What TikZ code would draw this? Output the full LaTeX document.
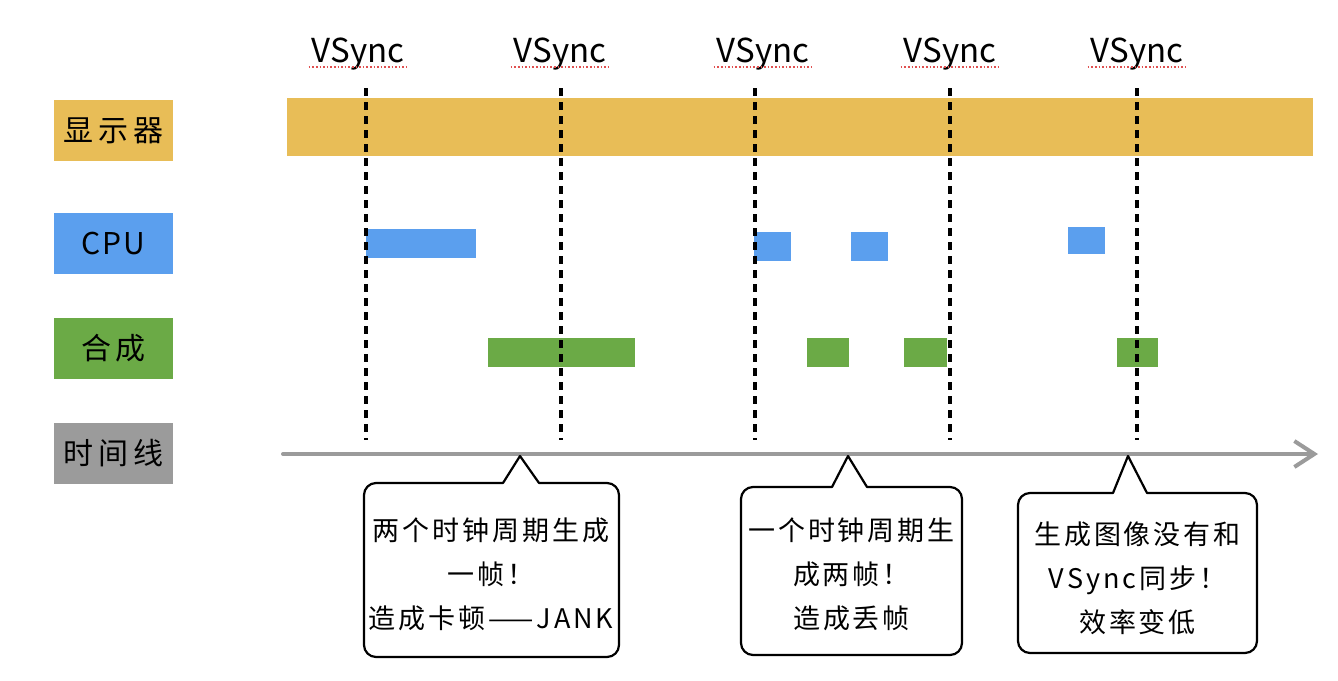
\documentclass[tikz,border=0pt]{standalone}
\usepackage{fontspec}
\setmainfont{Noto Sans CJK SC}
\newfontfamily\labelfont[LetterSpace=16]{Noto Sans CJK SC}
\newfontfamily\notefont[LetterSpace=11]{Noto Sans CJK SC}
\usetikzlibrary{arrows.meta}
\definecolor{dispyellow}{HTML}{E8BD57}
\definecolor{cpublue}{HTML}{5B9FEE}
\definecolor{compgreen}{HTML}{6BAA46}
\definecolor{timegray}{HTML}{9B9B9B}
\definecolor{spellred}{HTML}{E05050}
\tikzset{
  rowlabel/.style={minimum width=59.5pt,minimum height=30.5pt,inner sep=0pt,
    font=\labelfont\fontsize{15}{18}\selectfont},
  vsync/.style={font=\fontsize{16.5}{18}\selectfont},
  syncline/.style={line width=1.8pt,dash pattern=on 4pt off 3pt},
  bubble/.style={line width=1.1pt,line join=round},
  note/.style={align=center,font=\notefont\fontsize{13.5}{22}\selectfont},
}
\begin{document}
\begin{tikzpicture}[x=0.5pt,y=-0.5pt]
    \useasboundingbox (0,0) rectangle (1338,680);
    %% row labels
    \node[rowlabel,fill=dispyellow] (disp) at (113.5,130.5) {显示器};
    \node[rowlabel,fill=cpublue] (cpu) at (113.5,243.5) {\addfontfeature{LetterSpace=6}CPU};
    \node[rowlabel,fill=compgreen] (comp) at (113.5,348) {合成};
    \node[rowlabel,fill=timegray] (time) at (113.5,453.5) {时间线};
    %% display
    \fill[dispyellow] (287,98) rectangle (1313,156);
    %% cpu
    \fill[cpublue] (366,229) rectangle (476,258);
    \fill[cpublue] (754,232) rectangle (791,261);
    \fill[cpublue] (851,232) rectangle (888,261);
    \fill[cpublue] (1068,227) rectangle (1105,254);
    %% composite
    \fill[compgreen] (488,338) rectangle (635,367);
    \fill[compgreen] (807,338) rectangle (849,367);
    \fill[compgreen] (904,338) rectangle (947,367);
    \fill[compgreen] (1117,338) rectangle (1158,367);
    %% vsync
    \foreach \tx/\lx [count=\i] in {358/366,560/561,763/755,950/950,1137/1137}{
        \node[vsync] (vs\i) at (\tx,54) {VSync};
        \draw[spellred,line width=0.8pt,densely dotted] (vs\i.west |- 0,67) ++(4,0) -- ([xshift=-2pt]vs\i.east |- 0,67);
        \draw[syncline] (\lx,88) -- (\lx,440);
    }
    %% timeline
    \coordinate (t0) at (283,454);
    \coordinate (t1) at (1318,454);
    \draw[timegray,line width=2pt,line cap=round,-{Straight Barb[length=10pt,width=13pt]}] (t0) -- (t1);
    %% notes
    \draw[bubble] (503,483) -- (520,456) -- (539,483) [rounded corners=6pt] -- (619,483) -- (619,657) -- (364,657) -- (364,483) [sharp corners] -- cycle;
    \node[note] (jank) at (491,574) {两个时钟周期生成\\一帧！\\造成卡顿——JANK};
    \draw[bubble] (832,487) -- (848,456) -- (867,487) [rounded corners=6pt] -- (962,487) -- (962,655) -- (741,655) -- (741,487) [sharp corners] -- cycle;
    \node[note] (drop) at (851.5,574) {一个时钟周期生\\成两帧！\\造成丢帧};
    \draw[bubble] (1113,493) -- (1128,456) -- (1147,493) [rounded corners=6pt] -- (1257,493) -- (1257,653) -- (1018,653) -- (1018,493) [sharp corners] -- cycle;
    \node[note] (slow) at (1137.5,578) {生成图像没有和\\VSync同步！\\效率变低};
\end{tikzpicture}
\end{document}
